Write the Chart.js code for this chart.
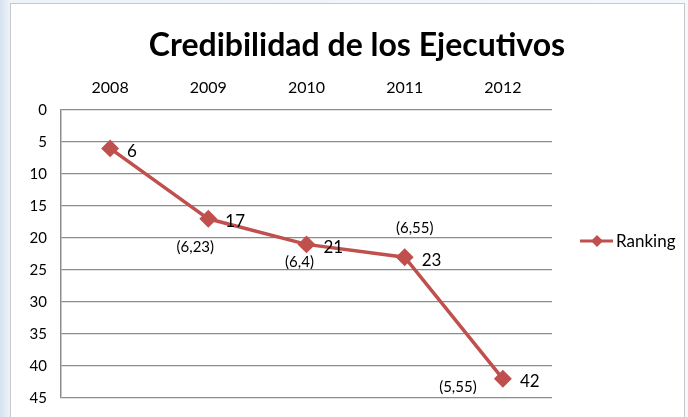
<!DOCTYPE html>
<html>
<head>
<meta charset="utf-8">
<script src="https://cdn.jsdelivr.net/npm/chart.js@4"></script>
<style>
  html, body { margin: 0; padding: 0; }
  body { width: 688px; height: 417px; overflow: hidden;
    background: linear-gradient(90deg, #d6e2f0 0px, #eef3fa 10px, #f4f7fb 100%); }
  #wrap { position: absolute; left: 10px; top: 3px; width: 673px; height: 413px;
    background: #fff; border: 1px solid #c8c8c8; overflow: hidden; }
  canvas { display: block; }
</style>
</head>
<body>
<div id="wrap"><canvas id="chart" width="673" height="417"></canvas></div>
<script>
// data
const years = ['2008', '2009', '2010', '2011', '2012'];
const ranking = [6, 17, 21, 23, 42];
const notes = ['', '(6,23)', '(6,4)', '(6,55)', '(5,55)'];
const yTicks = [0, 5, 10, 15, 20, 25, 30, 35, 40, 45];

const red = '#C0504D';
const font = 'Lato, "Open Sans", sans-serif';
// where each note sits relative to its point
const noteOffsets = [[0, 0], [-13, 28], [-7, 18], [10, -29], [-45, 8]];

const overlay = {
  id: 'overlay',
  afterDatasetsDraw(chart) {
    const ctx = chart.ctx;
    const xs = chart.scales.x, ys = chart.scales.y;
    ctx.save();
    // title
    ctx.fillStyle = '#000';
    ctx.font = 'bold 32px ' + font;
    ctx.textAlign = 'center';
    ctx.textBaseline = 'middle';
    ctx.fillText('Credibilidad de los Ejecutivos', 346, 42);
    // value labels
    ctx.font = '17px ' + font;
    ctx.textAlign = 'left';
    ranking.forEach((v, i) => {
      ctx.fillText(String(v), xs.getPixelForValue(i) + 17, ys.getPixelForValue(v) + 3);
    });
    // notes
    ctx.font = '15px ' + font;
    ctx.textAlign = 'center';
    notes.forEach((t, i) => {
      if (!t) return;
      const px = xs.getPixelForValue(i) + noteOffsets[i][0];
      const py = ys.getPixelForValue(ranking[i]) + noteOffsets[i][1];
      ctx.fillText(t, px, py);
    });
    // legend
    const ly = 237;
    ctx.strokeStyle = red;
    ctx.lineWidth = 3;
    ctx.beginPath(); ctx.moveTo(569, ly); ctx.lineTo(602, ly); ctx.stroke();
    ctx.fillStyle = red;
    ctx.beginPath();
    ctx.moveTo(586, ly - 6); ctx.lineTo(592, ly); ctx.lineTo(586, ly + 6); ctx.lineTo(580, ly);
    ctx.closePath(); ctx.fill();
    ctx.fillStyle = '#000';
    ctx.font = '17px ' + font;
    ctx.textAlign = 'left';
    ctx.fillText('Ranking', 605, ly + 1);
    ctx.restore();
  }
};

new Chart(document.getElementById('chart'), {
  type: 'line',
  data: {
    labels: years,
    datasets: [{
      label: 'Ranking',
      data: ranking,
      borderColor: red,
      backgroundColor: red,
      borderWidth: 3.5,
      pointStyle: 'rectRot',
      pointRadius: 6.5,
      pointHoverRadius: 6.5,
      fill: false,
      tension: 0
    }]
  },
  options: {
    responsive: false,
    animation: false,
    layout: { padding: { left: 0, right: 132, top: 0, bottom: 16 } },
    plugins: { legend: { display: false }, tooltip: { enabled: false } },
    scales: {
      x: {
        position: 'top',
        offset: true,
        grid: { display: false },
        border: { display: false },
        ticks: { color: '#000', font: { family: font, size: 16 }, padding: 5 },
        afterFit(s) { s.height = 106; }
      },
      y: {
        reverse: true,
        min: 0, max: 45,
        afterBuildTicks(s) { s.ticks = yTicks.map(v => ({ value: v })); },
        grid: { color: '#8c8c8c', lineWidth: 1.3, drawTicks: false },
        border: { display: true, color: '#8c8c8c', width: 1.5 },
        ticks: { color: '#000', font: { family: font, size: 15 }, padding: 14 },
        afterFit(s) { s.width = 50; }
      }
    }
  },
  plugins: [overlay]
});
</script>
</body>
</html>
